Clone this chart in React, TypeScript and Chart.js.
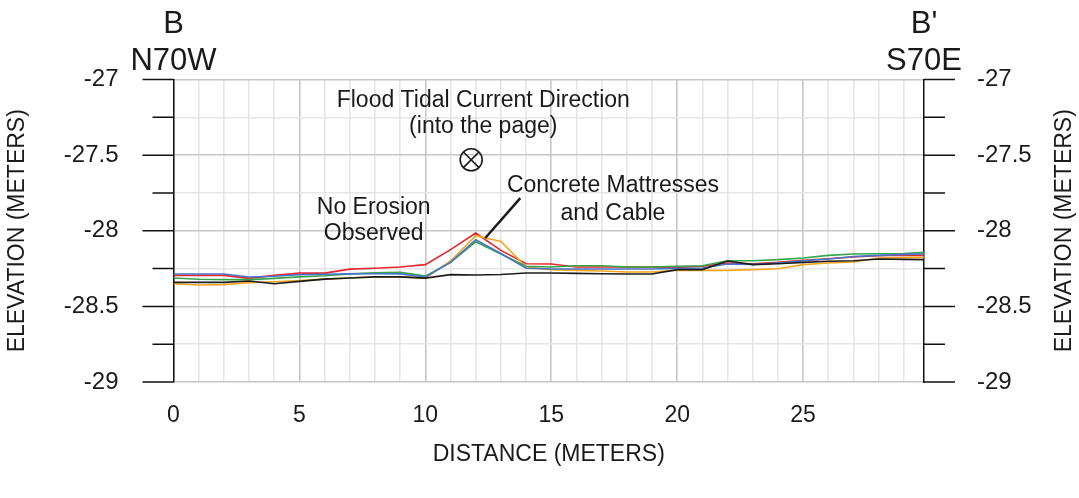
import { useEffect, useRef } from "react";
import { Chart, registerables } from "chart.js";

Chart.register(...registerables);

const distance = [0, 1, 2, 3, 4, 5, 6, 7, 8, 9, 10, 11, 12, 13, 14, 15, 16, 17, 18, 19, 20, 21, 22, 23, 24, 25, 26, 27, 28, 29, 29.8];

const survey1Black = [-28.341, -28.341, -28.341, -28.332, -28.35, -28.335, -28.32, -28.312, -28.305, -28.305, -28.313, -28.29, -28.293, -28.289, -28.279, -28.279, -28.282, -28.284, -28.286, -28.286, -28.257, -28.257, -28.2, -28.224, -28.218, -28.209, -28.202, -28.198, -28.187, -28.189, -28.191];
const survey2Blue = [-28.286, -28.286, -28.286, -28.306, -28.301, -28.29, -28.288, -28.285, -28.284, -28.285, -28.306, -28.209, -28.059, -28.15, -28.248, -28.253, -28.253, -28.253, -28.253, -28.253, -28.249, -28.246, -28.22, -28.222, -28.213, -28.198, -28.187, -28.17, -28.163, -28.156, -28.154];
const survey3Green = [-28.312, -28.321, -28.323, -28.323, -28.315, -28.305, -28.298, -28.285, -28.278, -28.275, -28.3, -28.209, -28.073, -28.154, -28.235, -28.24, -28.231, -28.231, -28.24, -28.24, -28.235, -28.231, -28.198, -28.198, -28.191, -28.18, -28.163, -28.154, -28.152, -28.15, -28.143];
const survey4Orange = [-28.35, -28.359, -28.356, -28.343, -28.337, -28.33, -28.32, -28.312, -28.305, -28.305, -28.313, -28.2, -28.033, -28.071, -28.24, -28.257, -28.262, -28.266, -28.273, -28.273, -28.262, -28.262, -28.262, -28.257, -28.251, -28.224, -28.213, -28.207, -28.18, -28.178, -28.176];
const survey5Red = [-28.295, -28.295, -28.295, -28.315, -28.295, -28.28, -28.28, -28.254, -28.248, -28.24, -28.224, -28.125, -28.015, -28.13, -28.218, -28.22, -28.24, -28.24, -28.24, -28.24, -28.242, -28.235, -28.213, -28.218, -28.209, -28.196, -28.185, -28.174, -28.165, -28.161, -28.163];

const xLabelTicks = [0, 5, 10, 15, 20, 25];
const xMin = 0;
const xMax = 29.8;
const yMin = -29;
const yMax = -27;

const FONT = '"Liberation Sans", Arial, sans-serif';
const TEXT = "#1a1a1a";

const isMajorY = (v: number) => Math.abs(v * 2 - Math.round(v * 2)) < 1e-6;

const overlayPlugin = {
  id: "overlay",
  afterDraw(chart: any) {
    const { ctx, chartArea } = chart;
    const xs = chart.scales.x;
    const ys = chart.scales.y;
    ctx.save();
    // tick marks on left and right axes
    ctx.strokeStyle = "#111";
    ctx.lineWidth = 1.5;
    ys.ticks.forEach((t: any) => {
      const py = ys.getPixelForValue(t.value);
      const major = isMajorY(t.value);
      const lenL = major ? 31 : 21;
      const lenR = major ? 31 : 21;
      ctx.beginPath();
      ctx.moveTo(chartArea.left - lenL, py);
      ctx.lineTo(chartArea.left, py);
      ctx.moveTo(chartArea.right, py);
      ctx.lineTo(chartArea.right + lenR, py);
      ctx.stroke();
    });

    ctx.fillStyle = TEXT;
    ctx.textAlign = "center";
    ctx.textBaseline = "middle";
    ctx.font = `31px ${FONT}`;
    const x0 = xs.getPixelForValue(xMin);
    const x1 = chartArea.right;
    ctx.fillText("B", x0, chartArea.top - 55);
    ctx.fillText("N70W", x0, chartArea.top - 18);
    ctx.fillText("B'", x1, chartArea.top - 55);
    ctx.fillText("S70E", x1, chartArea.top - 18);

    // annotations
    ctx.font = `23px ${FONT}`;
    ctx.fillText("Flood Tidal Current Direction", xs.getPixelForValue(12.3), ys.getPixelForValue(-27.14));
    ctx.fillText("(into the page)", xs.getPixelForValue(12.3), ys.getPixelForValue(-27.315));
    ctx.fillText("Concrete Mattresses", xs.getPixelForValue(17.45), ys.getPixelForValue(-27.705));
    ctx.fillText("and Cable", xs.getPixelForValue(17.45), ys.getPixelForValue(-27.887));
    ctx.fillText("No Erosion", xs.getPixelForValue(7.95), ys.getPixelForValue(-27.847));
    ctx.fillText("Observed", xs.getPixelForValue(7.95), ys.getPixelForValue(-28.02));

    // into-the-page symbol
    const cx = xs.getPixelForValue(11.82);
    const cy = ys.getPixelForValue(-27.531);
    const r = 11;
    ctx.strokeStyle = "#1a1a1a";
    ctx.lineWidth = 1.6;
    ctx.beginPath();
    ctx.arc(cx, cy, r, 0, Math.PI * 2);
    ctx.stroke();
    const d = r * Math.SQRT1_2;
    ctx.beginPath();
    ctx.moveTo(cx - d, cy - d);
    ctx.lineTo(cx + d, cy + d);
    ctx.moveTo(cx + d, cy - d);
    ctx.lineTo(cx - d, cy + d);
    ctx.stroke();

    // leader line
    ctx.lineWidth = 2.5;
    ctx.beginPath();
    ctx.moveTo(xs.getPixelForValue(13.77), ys.getPixelForValue(-27.784));
    ctx.lineTo(xs.getPixelForValue(12.38), ys.getPixelForValue(-28.048));
    ctx.stroke();

    // right axis title (rotated like the left one)
    ctx.font = `23px ${FONT}`;
    ctx.translate(1065, (chartArea.top + chartArea.bottom) / 2);
    ctx.rotate(-Math.PI / 2);
    ctx.fillText("ELEVATION (METERS)", 0, 0);
    ctx.restore();
  },
};

export default function App() {
  const ref = useRef<HTMLCanvasElement | null>(null);

  useEffect(() => {
    if (!ref.current) return;
    const mk = (vals: number[]) => distance.map((x, i) => ({ x, y: vals[i] }));
    const ds = (label: string, vals: number[], color: string) => ({
      label,
      data: mk(vals),
      borderColor: color,
      backgroundColor: color,
      borderWidth: 1.6,
      pointRadius: 0,
      tension: 0,
      fill: false,
    });
    const chart = new Chart(ref.current, {
      type: "line",
      data: {
        datasets: [
          ds("Survey 1", survey1Black, "#1c1c1c"),
          ds("Survey 2", survey2Blue, "#4a74c9"),
          ds("Survey 3", survey3Green, "#34a64a"),
          ds("Survey 4", survey4Orange, "#f7a51c"),
          ds("Survey 5", survey5Red, "#e8262b"),
        ],
      },
      options: {
        responsive: false,
        animation: false,
        devicePixelRatio: 1,
        layout: { padding: { top: 79.5, left: 0, right: 0, bottom: 0 } },
        plugins: { legend: { display: false }, tooltip: { enabled: false } },
        scales: {
          x: {
            type: "linear",
            min: xMin,
            max: xMax,
            afterFit: (s: any) => {
              s.height = 116;
            },
            ticks: {
              stepSize: 1,
              autoSkip: false,
              includeBounds: false,
              maxRotation: 0,
              padding: 20,
              color: TEXT,
              font: { family: FONT, size: 23 },
              callback: (v: any) => (xLabelTicks.includes(Number(v)) ? String(v) : ""),
            },
            grid: {
              drawTicks: false,
              color: (c: any) => (c.tick && c.tick.value % 5 === 0 ? "#c6c6c6" : "#e6e6e6"),
              lineWidth: 1.6,
            },
            border: { display: false },
            title: {
              display: true,
              text: "DISTANCE (METERS)",
              color: TEXT,
              font: { family: FONT, size: 23 },
              padding: { top: 0, bottom: 30 },
            },
          },
          y: {
            type: "linear",
            position: "left",
            min: yMin,
            max: yMax,
            afterFit: (s: any) => {
              s.width = 173.5;
            },
            ticks: {
              stepSize: 0.25,
              autoSkip: false,
              padding: 55,
              color: TEXT,
              font: { family: FONT, size: 24 },
              callback: (v: any) => (isMajorY(Number(v)) ? String(Number(v)) : ""),
            },
            grid: {
              drawTicks: false,
              color: (c: any) => (c.tick && isMajorY(c.tick.value) ? "#c6c6c6" : "#e6e6e6"),
              lineWidth: 1.6,
            },
            border: { display: true, color: "#111", width: 1.5 },
            title: {
              display: true,
              text: "ELEVATION (METERS)",
              color: TEXT,
              font: { family: FONT, size: 23 },
              padding: { top: 4, bottom: 0 },
            },
          },
          y2: {
            type: "linear",
            position: "right",
            min: yMin,
            max: yMax,
            afterFit: (s: any) => {
              s.width = 155;
            },
            ticks: {
              stepSize: 0.25,
              autoSkip: false,
              padding: 53,
              color: TEXT,
              font: { family: FONT, size: 24 },
              callback: (v: any) => (isMajorY(Number(v)) ? String(Number(v)) : ""),
            },
            grid: { display: false, drawTicks: false },
            border: { display: true, color: "#111", width: 1.5 },
          },
        },
      },
      plugins: [overlayPlugin],
    });
    return () => chart.destroy();
  }, []);

  return (
    <div style={{ position: "fixed", left: 0, top: 0, width: 1079, height: 498, background: "#fff" }}>
      <canvas ref={ref} width={1079} height={498} style={{ width: 1079, height: 498 }} />
    </div>
  );
}
